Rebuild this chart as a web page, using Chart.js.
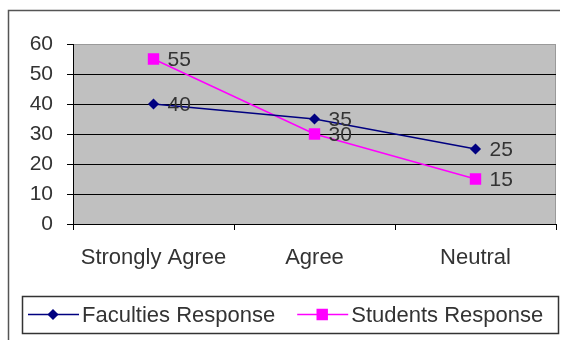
<!DOCTYPE html>
<html>
<head>
<meta charset="utf-8">
<script src="https://cdn.jsdelivr.net/npm/chart.js@4/dist/chart.umd.min.js"></script>
<style>
  html, body { margin:0; padding:0; background:#fff; }
  #wrap { width:569px; height:340px; }
</style>
</head>
<body>
<div id="wrap"><canvas id="chart" width="569" height="340"></canvas></div>
<script>

const categories      = ['Strongly Agree', 'Agree', 'Neutral']
const facultiesValues = [40, 35, 25]
const studentsValues  = [55, 30, 15]
const yTicks          = [0, 10, 20, 30, 40, 50, 60]

const FONT = "'Liberation Sans', Arial, sans-serif"
const TEXT = '#333'


// grey plot area + outer frame of the picture
const backdrop = {
      id: 'backdrop',
      beforeDraw(chart){
            const {ctx, chartArea:a} = chart
            ctx.save()
            ctx.fillStyle = '#c0c0c0'
            ctx.fillRect(a.left, a.top, a.right - a.left, a.bottom - a.top)

            ctx.strokeStyle = '#9a9a9a'
            ctx.lineWidth = 1
            ctx.beginPath()
            ctx.moveTo(a.right - 0.5, a.top)
            ctx.lineTo(a.right - 0.5, a.bottom)
            ctx.stroke()

            //outer frame, only top + left show in the picture
            ctx.strokeStyle = '#555'
            ctx.lineWidth = 1.5
            ctx.beginPath()
            ctx.moveTo(8.5, 345)
            ctx.lineTo(8.5, 10.5)
            ctx.lineTo(560, 10.5)
            ctx.stroke()
            ctx.restore()
      }
}


// value printed right of each point
const valueLabels = {
      id: 'valueLabels',
      afterDatasetsDraw(chart){
            const ctx = chart.ctx
            ctx.save()
            ctx.font = '21px ' + FONT
            ctx.fillStyle = TEXT
            ctx.textAlign = 'left'
            ctx.textBaseline = 'middle'
            chart.data.datasets.forEach((ds, i) => {
                  chart.getDatasetMeta(i).data.forEach((pt, j) => {
                        ctx.fillText(ds.data[j], pt.x + 14, pt.y + 1)
                  })
            })
            ctx.restore()
      }
}


// boxed legend at the bottom, line + marker + label
const boxLegend = {
      id: 'boxLegend',
      afterDraw(chart){
            const ctx = chart.ctx
            const box = {x:22, y:296, w:536, h:37}
            ctx.save()
            ctx.strokeStyle = '#333'
            ctx.lineWidth = 1.5
            ctx.strokeRect(box.x + 0.5, box.y + 0.5, box.w, box.h)

            ctx.font = '22px ' + FONT
            ctx.textBaseline = 'middle'
            ctx.textAlign = 'left'

            let x = 28
            const cy = box.y + box.h / 2
            chart.data.datasets.forEach(ds => {
                  ctx.strokeStyle = ds.borderColor
                  ctx.fillStyle = ds.borderColor
                  ctx.lineWidth = ds.borderWidth
                  ctx.beginPath()
                  ctx.moveTo(x, cy)
                  ctx.lineTo(x + 51, cy)
                  ctx.stroke()
                  Chart.helpers.drawPoint(ctx, {
                        pointStyle: ds.pointStyle,
                        radius: ds.pointRadius,
                        borderWidth: 1,
                        rotation: 0
                  }, x + 25, cy)
                  ctx.fillStyle = TEXT
                  ctx.fillText(ds.label, x + 54, cy + 1)
                  x += 54 + ctx.measureText(ds.label).width + 22
            })
            ctx.restore()
      }
}


function dataset(label, values, color, style, radius, width){
      return {
            label: label,
            data: values,
            borderColor: color,
            backgroundColor: color,
            pointBackgroundColor: color,
            pointBorderColor: color,
            borderWidth: width,
            pointStyle: style,
            pointRadius: radius,
            pointHoverRadius: radius,
            tension: 0,
      }
}


const setup = {
      type: 'line',
      data: {
            labels: categories,
            datasets: [
                  dataset('Faculties Response', facultiesValues, '#000080', 'rectRot', 4.5, 1.5),
                  dataset('Students Response',  studentsValues,  '#ff00ff', 'rect',    7,   1.5),
            ]
      },
      options: {
            responsive: false,
            animation: false,
            layout: { padding: { top:44, right:13, bottom:66, left:0 } },
            plugins: {
                  legend:  { display:false },
                  tooltip: { enabled:false },
            },
            scales: {
                  x: {
                        offset: true,
                        afterFit: (s) => { s.height = 50 },
                        border: { color:'#000', width:1 },
                        grid: {
                              offset: true,
                              drawOnChartArea: false,
                              drawTicks: true,
                              tickLength: 6,
                              color: '#000',
                        },
                        ticks: { color:TEXT, font:{ family:FONT, size:22 }, padding:15, maxRotation:0 },
                  },
                  y: {
                        min: yTicks[0],
                        max: yTicks[yTicks.length - 1],
                        afterFit: (s) => { s.width = 73 },
                        afterBuildTicks: (s) => { s.ticks = yTicks.map(v => ({value:v})) },
                        border: { color:'#000', width:1 },
                        grid: {
                              color: (c) => c.tick && c.tick.value === 60 ? '#9a9a9a' : '#000',
                              tickColor: '#000',
                              tickLength: 6,
                              lineWidth: 1,
                        },
                        ticks: { color:TEXT, font:{ family:FONT, size:21 }, padding:14 },
                  }
            }
      },
      plugins: [backdrop, valueLabels, boxLegend]
}

new Chart(document.getElementById('chart'), setup)

</script>
</body>
</html>
